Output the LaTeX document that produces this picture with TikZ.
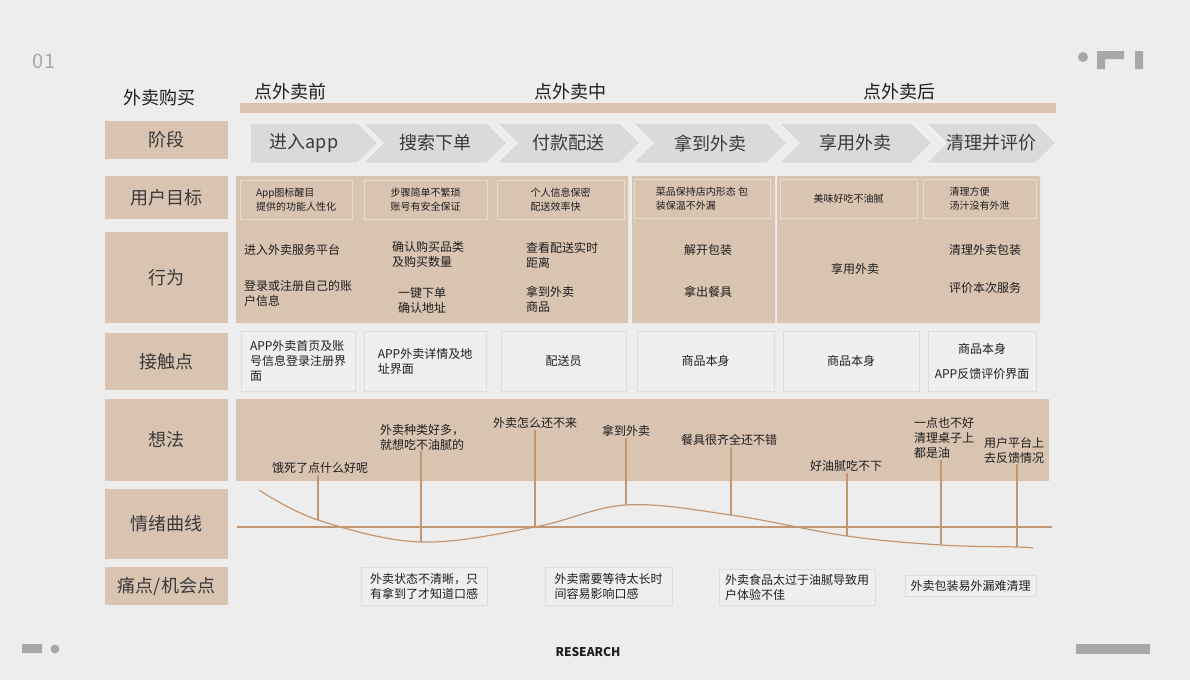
\documentclass[tikz,border=0pt]{standalone}
\usepackage{fontspec}
\newfontfamily\cjk{Noto Sans CJK SC}
\usetikzlibrary{positioning,shapes.symbols}

\definecolor{bgcol}{HTML}{EDEDED}
\definecolor{tanfill}{HTML}{D9C3B1}
\definecolor{goalline}{HTML}{E9DBD0}
\definecolor{chevgrey}{HTML}{DADADA}
\definecolor{boxfill}{HTML}{EFEFEF}
\definecolor{boxline}{HTML}{DCDCDC}
\definecolor{linecol}{HTML}{C29670}
\definecolor{decogrey}{HTML}{A8A8A8}
\definecolor{txtdark}{HTML}{1E1E1E}
\definecolor{txtgrey}{HTML}{3A3A3A}

\begin{document}
\begin{tikzpicture}[x=1pt,y=-1pt,font=\cjk,text=txtdark,
  label box/.style={fill=tanfill,minimum width=123pt,inner sep=0pt,font=\cjk\fontsize{18}{20}\selectfont,text=txtgrey},
  phase/.style={font=\cjk\fontsize{18}{20}\selectfont,text=txtdark},
  stage/.style={signal,signal to=east,signal from=west,fill=chevgrey,draw=white!70!chevgrey,line width=1pt,minimum height=40pt,inner sep=0pt,font=\cjk\fontsize{18}{20}\selectfont,text=txtgrey},
  goal box/.style={draw=goalline,line width=0.8pt,minimum height=39pt,inner sep=0pt,align=left,font=\cjk\fontsize{10}{14}\selectfont},
  plain box/.style={fill=boxfill,draw=boxline,line width=0.8pt,inner sep=0pt,align=left,font=\cjk\fontsize{12}{15}\selectfont},
  small/.style={inner sep=1pt,align=left,font=\cjk\fontsize{12}{15}\selectfont},
  thought line/.style={every edge/.style={draw=linecol,line width=1.1pt}}]

\fill[bgcol] (0,0) rectangle (1190,680);
\useasboundingbox (0,0) rectangle (1190,680);

% corner marks
\node[text=decogrey,font=\cjk\fontsize{20}{22}\selectfont] (num) at (44,61) {01};
\fill[decogrey] (1083,57) circle (5);
\fill[decogrey] (1097,51) rectangle (1124,59) (1097,51) rectangle (1105,69) (1135,51) rectangle (1143,69);
\fill[decogrey] (22,644) rectangle (42,653) (55,649) circle (4.5);
\fill[decogrey] (1076,644) rectangle (1150,654);
\node[font=\cjk\bfseries\fontsize{12}{14}\selectfont] (res) at (588,652) {RESEARCH};

% left column
\node[phase] (title) at (159,98) {外卖购买};
\node[label box,minimum height=38pt] (l1) at (166.5,140) {阶段};
\node[label box,minimum height=43pt] (l2) at (166.5,197.5) {用户目标};
\node[label box,minimum height=91pt] (l3) at (166.5,277.5) {行为};
\node[label box,minimum height=57pt] (l4) at (166.5,361.5) {接触点};
\node[label box,minimum height=82pt] (l5) at (166.5,440) {想法};
\node[label box,minimum height=70pt] (l6) at (166.5,524) {情绪曲线};
\node[label box,minimum height=38pt] (l7) at (166.5,586) {痛点/机会点};

% phases
\fill[tanfill] (240,103) rectangle (1056,113);
\node[phase] (h1) at (290,92) {点外卖前};
\node[phase] (h2) at (570,92) {点外卖中};
\node[phase] (h3) at (899,92) {点外卖后};

\node[stage,signal from=nowhere,minimum width=128pt] (s1) at (304,143) {进入app};
\node[stage,minimum width=144pt] (s2) at (435,143) {搜索下单};
\node[stage,minimum width=143pt] (s3) at (568.5,143) {付款配送};
\node[stage,minimum width=154pt] (s4) at (710,143) {拿到外卖};
\node[stage,minimum width=153pt] (s5) at (855.5,143) {享用外卖};
\node[stage,minimum width=130pt] (s6) at (991,143) {清理并评价};

% goals and behaviour
\fill[tanfill] (236,176) rectangle (628,323) (632,176) rectangle (775,323) (777,176) rectangle (1040,323);
\node[goal box,minimum width=112pt] (g1) at (296,199.5) {App图标醒目\\提供的功能人性化};
\node[goal box,minimum width=123pt] (g2) at (425.5,199.5) {步骤简单不繁琐\\账号有安全保证};
\node[goal box,minimum width=127pt] (g3) at (560.5,199.5) {个人信息保密\\配送效率快};
\node[goal box,minimum width=136pt] (g4) at (702,198.5) {菜品保持店内形态 包\\装保温不外漏};
\node[goal box,minimum width=137pt] (g5) at (848.5,198.5) {美味好吃不油腻};
\node[goal box,minimum width=113pt] (g6) at (979.5,198.5) {清理方便\\汤汁没有外泄};

\node[small,anchor=west] (b1) at (243,250) {进入外卖服务平台};
\node[small,anchor=west] (b2) at (243,293) {登录或注册自己的账\\户信息};
\node[small,anchor=west] (b3) at (391,254) {确认购买品类\\及购买数量};
\node[small,anchor=west] (b4) at (397,300) {一键下单\\确认地址};
\node[small,anchor=west] (b5) at (525,255) {查看配送实时\\距离};
\node[small,anchor=west] (b6) at (525,299) {拿到外卖\\商品};
\node[small] (b7) at (708,250) {解开包装};
\node[small,below=28pt of b7] (b8) {拿出餐具};
\node[small] (b9) at (855,269) {享用外卖};
\node[small] (b10) at (985,250) {清理外卖包装};
\node[small,below=24pt of b10] (b11) {评价本次服务};

% touch points
\node[plain box,minimum width=114pt,minimum height=60pt] (k1) at (298,361) {APP外卖首页及账\\号信息登录注册界\\面};
\node[plain box,minimum width=122pt,minimum height=60pt] (k2) at (425,361) {APP外卖详情及地\\址界面};
\node[plain box,minimum width=125pt,minimum height=60pt] (k3) at (563.5,361) {配送员};
\node[plain box,minimum width=137pt,minimum height=60pt] (k4) at (705.5,361) {商品本身};
\node[plain box,minimum width=136pt,minimum height=60pt] (k5) at (851,361) {商品本身};
\node[plain box,minimum width=108pt,minimum height=60pt,align=center] (k6) at (982,361) {商品本身\\[10pt]APP反馈评价界面};

% thoughts and emotion curve
\fill[tanfill] (236,399) rectangle (1049,481);
\coordinate (base w) at (237,527);
\coordinate (base e) at (1052,527);
\draw[draw=linecol,line width=1.1pt] (base w) -- (base e);

\coordinate (c0) at (259,490);
\coordinate (c1) at (318,520);
\coordinate (c2) at (421,542);
\coordinate (c3) at (535,527);
\coordinate (c4) at (626,505);
\coordinate (c5) at (731,515);
\coordinate (c6) at (847,536);
\coordinate (c7) at (941,545);
\coordinate (c8) at (1017,547);
\coordinate (c9) at (1033,548);
\draw[draw=linecol,line width=1.2pt] plot[smooth,tension=0.6] coordinates {(c0) (c1) (c2) (c3) (c4) (c5) (c6) (c7) (c8) (c9)};

\node[small] (t1) at (320,468) {饿死了点什么好呢};
\node[small,anchor=west] (t2) at (379,437) {外卖种类好多，\\就想吃不油腻的};
\node[small] (t3) at (535,423) {外卖怎么还不来};
\node[small] (t4) at (626,431) {拿到外卖};
\node[small] (t5) at (729,440) {餐具很齐全还不错};
\node[small] (t6) at (846,466) {好油腻吃不下};
\node[small,anchor=west] (t7) at (913,438) {一点也不好\\清理桌子上\\都是油};
\node[small,anchor=west] (t8) at (983,450) {用户平台上\\去反馈情况};

\path[thought line]
  (c1 |- t1.south) edge (c1)
  (c2 |- t2.south) edge (c2)
  (c3 |- t3.south) edge (c3)
  (c4 |- t4.south) edge (c4)
  (c5 |- t5.south) edge (c5)
  (c6 |- t6.south) edge (c6)
  (c7 |- t7.south) edge (c7)
  (c8 |- t8.south) edge (c8);

% pain points
\node[plain box,minimum width=126pt,minimum height=38pt] (p1) at (424,586) {外卖状态不清晰，只\\有拿到了才知道口感};
\node[plain box,minimum width=127pt,minimum height=38pt] (p2) at (608.5,586) {外卖需要等待太长时\\间容易影响口感};
\node[plain box,minimum width=156pt,minimum height=36pt] (p3) at (797,587) {外卖食品太过于油腻导致用\\户体验不佳};
\node[plain box,minimum width=131pt,minimum height=21pt] (p4) at (970.5,585.5) {外卖包装易外漏难清理};
\end{tikzpicture}
\end{document}
